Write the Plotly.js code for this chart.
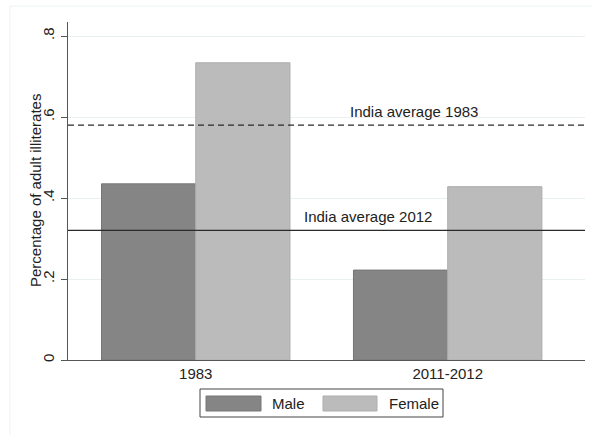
<!DOCTYPE html>
<html><head><meta charset="utf-8">
<script src="https://cdn.plot.ly/plotly-3.0.1.min.js"></script>
<style>html,body{margin:0;padding:0;background:#fff}#chart{width:592px;height:435px}</style>
</head><body><div id="chart"></div>
<script>
var categories = ["1983", "2011-2012"];
var seriesNames = ["Male", "Female"];
var maleValues = [0.435, 0.222];
var femaleValues = [0.734, 0.428];
var averageValues = [0.58, 0.32];
var averageLabels = ["India average 1983", "India average 2012"];
var yTickVals = [0, 0.2, 0.4, 0.6, 0.8];
var yTickText = ["0", ".2", ".4", ".6", ".8"];
var yTitle = "Percentage of adult illiterates";

var W = 592, H = 435, L = 68, R = 7, T = 22, B = 75;
var pw = W - L - R, ph = H - T - B;
function px(x){ return (x - L) / pw; }
function py(y){ return (H - B - y) / ph; }

var colors = ["#858585", "#bbbbbb"];
var edges = ["#767676", "#aeaeae"];
var font = {family: "Liberation Sans, Arial, sans-serif", size: 15, color: "#222"};

var traces = [maleValues, femaleValues].map(function(v, i){
  return {type: "bar", x: categories, y: v, name: seriesNames[i],
    marker: {color: colors[i], line: {color: edges[i], width: 1}},
    hoverinfo: "none", showlegend: false};
});

var shapes = [
  {type: "rect", xref: "paper", yref: "paper", x0: px(10), x1: px(620), y0: py(6), y1: py(460),
   line: {color: "#edf3f4", width: 1}, fillcolor: "rgba(0,0,0,0)", layer: "below"},
  {type: "line", xref: "paper", yref: "y", x0: 0, x1: 1, y0: averageValues[0], y1: averageValues[0],
   line: {color: "#2a2a2a", width: 1.3, dash: "6px,4px"}},
  {type: "line", xref: "paper", yref: "y", x0: 0, x1: 1, y0: averageValues[1], y1: averageValues[1],
   line: {color: "#2a2a2a", width: 1.3}},
  {type: "rect", xref: "paper", yref: "paper", x0: px(200), x1: px(443), y0: py(417), y1: py(389),
   line: {color: "#444", width: 1}, fillcolor: "#fff"},
  {type: "rect", xref: "paper", yref: "paper", x0: px(206), x1: px(261), y0: py(411), y1: py(396),
   line: {color: edges[0], width: 1}, fillcolor: colors[0]},
  {type: "rect", xref: "paper", yref: "paper", x0: px(323), x1: px(377), y0: py(411), y1: py(396),
   line: {color: edges[1], width: 1}, fillcolor: colors[1]}
];

var annotations = [
  {xref: "paper", yref: "y", x: px(414), y: averageValues[0], xanchor: "center", yanchor: "bottom", yshift: 3,
   text: averageLabels[0], showarrow: false, font: font},
  {xref: "paper", yref: "y", x: px(368), y: averageValues[1], xanchor: "center", yanchor: "bottom", yshift: 3,
   text: averageLabels[1], showarrow: false, font: font},
  {xref: "paper", yref: "paper", x: px(270), y: py(403.5), xanchor: "left", yanchor: "middle",
   text: seriesNames[0], showarrow: false, font: font},
  {xref: "paper", yref: "paper", x: px(387), y: py(403.5), xanchor: "left", yanchor: "middle",
   text: seriesNames[1], showarrow: false, font: font},
  {xref: "paper", yref: "paper", x: px(35), y: 0.5, xanchor: "center", yanchor: "middle", textangle: -90,
   text: yTitle, showarrow: false, font: font}
];

var layout = {
  width: W, height: H,
  margin: {l: L, r: R, t: T, b: B, pad: 0},
  paper_bgcolor: "#fff", plot_bgcolor: "#fff",
  barmode: "group", bargap: 0.252, bargroupgap: 0,
  showlegend: false,
  font: font,
  xaxis: {type: "category", range: [-0.507, 1.545], showgrid: false, zeroline: false,
    showline: true, linecolor: "#555", linewidth: 1, ticks: "", tickfont: font, fixedrange: true},
  yaxis: {range: [0, 0.8346], tickvals: yTickVals, ticktext: yTickText, tickangle: -90,
    showgrid: true, gridcolor: "#e8f0f2", gridwidth: 1, zeroline: false,
    showline: true, linecolor: "#555", linewidth: 1, ticks: "outside", ticklen: 6, tickcolor: "#555",
    tickfont: font, ticklabelstandoff: 1, fixedrange: true},
  shapes: shapes,
  annotations: annotations
};

Plotly.newPlot("chart", traces, layout, {staticPlot: true, displayModeBar: false});
</script></body></html>
